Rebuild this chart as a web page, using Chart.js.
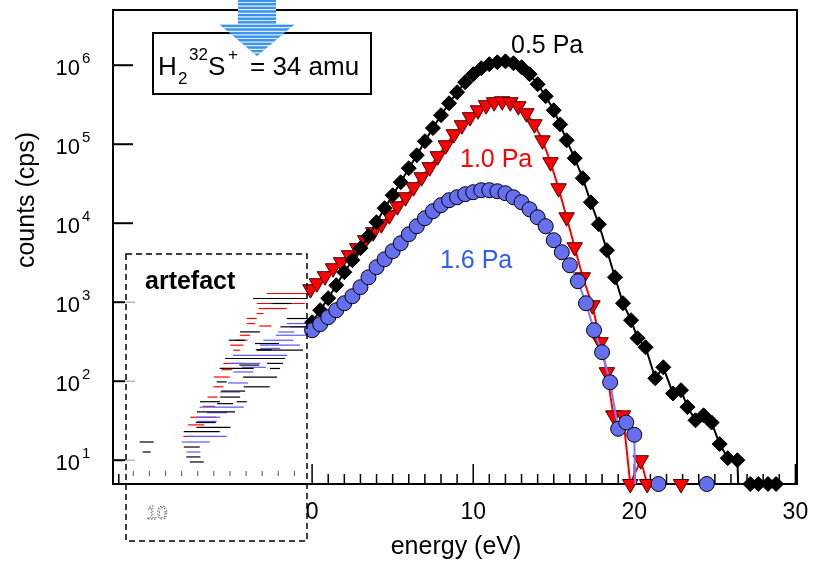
<!DOCTYPE html>
<html>
<head>
<meta charset="utf-8">
<script src="https://cdn.jsdelivr.net/npm/chart.js@4.4.1/dist/chart.umd.min.js"></script>
<style>
  html, body { margin: 0; padding: 0; background: #fff; }
  canvas { display: block; }
</style>
</head>
<body>
<canvas id="myChart" width="815" height="563"></canvas>
<script>
const FONT = '"Liberation Sans", Arial, Helvetica, sans-serif';

// 0.5 Pa (black diamonds)
const energy05 = [0,0.5,1,1.5,2,2.5,3,3.5,4,4.5,5,5.5,6,6.5,7,7.5,8,8.5,9,9.5,10,10.5,11,11.5,12,12.5,13,13.5,14,14.5,15,15.4,15.8,16.3,16.8,17.3,17.8,18.3,18.8,19.3,19.8,20.2,20.7,21.3,21.8,22.4,22.9,23.3,23.8,24.3,24.8,25.3,25.8,26.4,26.45,27.2,27.7,28.3,28.8];
const counts05 = [558,792,1125,1641,2399,3404,4830,6840,10300,15490,22600,33000,49700,72600,109000,160000,233000,330000,455000,610000,769000,916000,1030000,1090000,1120000,1060000,944000,769000,574000,405000,269000,178000,112000,66500,37100,18400,9710,4550,2070,971,592,350,269,109,150,70,77,47,32,37,30,16,10.6,10,5,5,5,5,5];

// 1.0 Pa (red triangles)
const energy10 = [-0.1,0.3,0.8,1.3,1.8,2.3,2.8,3.3,3.8,4.3,4.8,5.3,5.8,6.3,6.8,7.3,7.8,8.3,8.8,9.3,9.8,10.3,10.8,11.3,11.8,12.3,12.8,13.3,13.8,14.3,14.8,15.3,15.8,16.3,16.8,17.4,17.9,18.3,18.7,19.3,19.75,20.4,20.8,22.9];
const counts10 = [1462,1740,2135,2692,3209,3936,4830,6095,7690,9710,12620,16410,21330,28560,38200,51200,70500,97100,134000,174000,220000,269000,312000,340000,350000,340000,303000,247000,179000,112000,59200,27700,11900,4970,2070,916,312,130,37,37,5,10,5,5];

// 1.6 Pa (blue circles)
const energy16 = [0,0.5,1,1.5,2,2.5,3,3.5,4,4.5,5,5.5,6,6.5,7,7.5,8,8.5,9,9.5,10,10.5,11,11.5,12,12.5,13,13.5,14,14.5,15,15.5,16,16.5,17,17.5,18,18.5,19,19.5,20,20.05,21.5,24.5];
const counts16 = [442,527,646,792,971,1191,1549,2070,2773,3499,4424,5580,7260,9160,11560,14190,16900,19540,21330,23300,24700,26200,26200,25400,24000,21330,18400,15000,11900,9160,6095,4296,2939,1845,971,442,233,97,25,30,21,5,5,5];

// points where the trace drops to zero (line only, no marker)
const dropEnergies = [26.45, 20.05];

// artefact region (negative energies)
const artRedE = [-1.57,-1.94,-2.45,-3.23,-3.75,-3.8,-4.16,-4.68,-4.68,-4.89,-5.61,-5.82,-6.18,-6.75,-7.68,-2.9,-4.4,-5.3,-6.4,-7.2];
const artRedV = [1290,964,832,719,622,537,382,286,247,168,113,85,63,35,20,500,330,140,48,28];
const artBlueE = [-0.95,-0.85,-1.32,-2.09,-1.99,-3.23,-4.16,-4.27,-5.09,-5.61,-6.44,-6.54,-6.54,-7.22,-7.37,-2.6,-3.6,-4.6,-5.9,-1.6];
const artBlueV = [537,488,382,330,286,213,168,131,73,47,35,31,20,17,12.7,260,150,95,40,420];
const artBlackE = [-1.99,-0.95,-1.16,-3.85,-4.68,-1.99,-3.54,-2.3,-4.68,-2.3,-3.23,-5.61,-3.44,-5.09,-6.34,-4.37,-5.97,-6.13,-6.85,-7.47,-7.37,-7.16,-10.27,-10.27,-2.8,-3.9,-4.9,-5.4,-6.6,-3.0,-1.9];
const artBlackV = [1115,622,488,421,330,247,194,168,145,145,113,98,85,63,55,55,41,26,23,14.7,11,9.5,17,12.7,300,160,75,52,30,250,964];
const ghostE = [-11.1,-10.1,-9.1,-8.1,-7.1,-6.1,-5.1,-4.1,-3.1,-2.1,-1.1];
const ghostV = 6.8;

// segment half-lengths for the artefact dashes (style only)
const artRedLen = [20,24,14,3.5,5,4,5,6.5,3.5,10,8,5,5,13,5,6,6,5,6,8];
const artBlueLen = [10,8,15,15,20,27,15,10,10,22,12,10,20,14,7,10,12,10,10,8];
const artBlackLen = [27,10,13,10,8,23,30,8,17,5,17,5,13,10,10,5,19,17,18,8,7,7,7,4,12,10,12,8,10,8,10];

// ticks
const xTickLabels = [0, 10, 20, 30];
const yTickExp = [1, 2, 3, 4, 5, 6];

const pairs = (xs, ys) => xs.map((e, i) => ({x: e, y: Array.isArray(ys) ? ys[i] : ys}));
const hideOnAxis = c => (c.p0.parsed.y <= 5 && c.p1.parsed.y <= 5) ? 'rgba(0,0,0,0)' : undefined;
const radii = (xs, r) => xs.map(e => dropEnergies.includes(e) ? 0 : r);

const frame = {
  id: 'frame',
  beforeDatasetsDraw(chart) {
    const {ctx, chartArea: a, scales: {x, y}} = chart;
    ctx.save();
    ctx.strokeStyle = '#000';
    ctx.lineWidth = 2;
    ctx.beginPath();
    ctx.moveTo(a.left, a.top);
    ctx.lineTo(a.right, a.top);
    ctx.lineTo(a.right, a.bottom);
    ctx.lineTo(a.left, a.bottom);
    ctx.closePath();
    ctx.stroke();

    // x ticks, pointing inward
    ctx.lineWidth = 1.5;
    ctx.beginPath();
    for (let e = 0; e <= 30; e++) {
      const px = x.getPixelForValue(e);
      const len = xTickLabels.includes(e) ? 20 : 10;
      ctx.moveTo(px, a.bottom);
      ctx.lineTo(px, a.bottom - len);
    }
    const pFirst = x.getPixelForValue(-12);
    ctx.moveTo(pFirst, a.bottom);
    ctx.lineTo(pFirst, a.bottom - 10);
    ctx.stroke();

    // y ticks
    ctx.lineWidth = 2;
    yTickExp.forEach(p => {
      const py = y.getPixelForValue(Math.pow(10, p));
      ctx.strokeStyle = '#000';
      ctx.beginPath();
      ctx.moveTo(a.left, py);
      ctx.lineTo(a.left + (p <= 3 ? 12 : 20), py);
      ctx.stroke();
      if (p <= 3) {
        ctx.strokeStyle = '#999';
        ctx.lineWidth = 1;
        ctx.beginPath();
        ctx.moveTo(a.left + 12, py);
        ctx.lineTo(a.left + 22, py);
        ctx.stroke();
        ctx.lineWidth = 2;
      }
    });
    ctx.restore();
  },
  afterDatasetsDraw(chart) {
    const {ctx, chartArea: a, scales: {x, y}} = chart;
    ctx.save();
    ctx.fillStyle = '#000';

    // x tick labels
    ctx.font = '23px ' + FONT;
    ctx.textAlign = 'center';
    ctx.textBaseline = 'alphabetic';
    xTickLabels.forEach(v => ctx.fillText(String(v), x.getPixelForValue(v), 519));

    // y tick labels 10^n
    yTickExp.forEach(p => {
      const py = y.getPixelForValue(Math.pow(10, p));
      ctx.font = '22px ' + FONT;
      ctx.textAlign = 'right';
      ctx.fillText('10', 80, py + 10);
      ctx.font = '15px ' + FONT;
      ctx.textAlign = 'left';
      ctx.fillText(String(p), 82, py - 2);
    });

    // axis titles
    ctx.font = '25px ' + FONT;
    ctx.textAlign = 'center';
    ctx.fillText('energy (eV)', 456, 554);
    ctx.save();
    ctx.translate(34, 200);
    ctx.rotate(-Math.PI / 2);
    ctx.fillText('counts (cps)', 0, 0);
    ctx.restore();

    // series labels
    ctx.textAlign = 'left';
    ctx.fillStyle = '#000';
    ctx.fillText('0.5 Pa', 511, 53);
    ctx.fillStyle = '#ff0000';
    ctx.fillText('1.0 Pa', 460, 167);
    ctx.fillStyle = '#2f5cf2';
    ctx.fillText('1.6 Pa', 440, 268);

    // species box
    ctx.fillStyle = '#fff';
    ctx.fillRect(153, 33, 218, 61);
    ctx.strokeStyle = '#000';
    ctx.lineWidth = 2;
    ctx.strokeRect(153, 33, 218, 61);
    ctx.fillStyle = '#000';
    ctx.font = '26px ' + FONT;
    ctx.fillText('H', 158, 75);
    ctx.font = '17px ' + FONT;
    ctx.fillText('2', 178, 84);
    ctx.fillText('32', 189, 60);
    ctx.font = '26px ' + FONT;
    ctx.fillText('S', 208, 75);
    ctx.font = '17px ' + FONT;
    ctx.fillText('+', 228, 60);
    ctx.font = '26px ' + FONT;
    ctx.fillText('= 34 amu', 250, 75);

    // artefact box
    ctx.setLineDash([6, 4]);
    ctx.lineWidth = 1.5;
    ctx.strokeRect(126, 254, 181, 287);
    ctx.setLineDash([]);
    ctx.font = 'bold 25px ' + FONT;
    ctx.fillText('artefact', 145, 289);

    // ghost tick label inside the artefact box
    ctx.font = '19px ' + FONT;
    ctx.textAlign = 'center';
    ctx.setLineDash([1.5, 1.5]);
    ctx.lineWidth = 0.8;
    ctx.strokeStyle = '#444';
    ctx.strokeText('10', 157, 519);
    ctx.setLineDash([]);

    // striped blue arrow
    ctx.beginPath();
    ctx.moveTo(238, 0);
    ctx.lineTo(276, 0);
    ctx.lineTo(276, 24);
    ctx.lineTo(295, 24);
    ctx.lineTo(257, 56);
    ctx.lineTo(219, 24);
    ctx.lineTo(238, 24);
    ctx.closePath();
    ctx.fillStyle = '#3a93ee';
    ctx.fill();
    ctx.clip();
    ctx.strokeStyle = 'rgba(255,255,255,0.85)';
    ctx.lineWidth = 1.2;
    ctx.beginPath();
    for (let yy = 2.5; yy < 56; yy += 3.6) {
      ctx.moveTo(215, yy);
      ctx.lineTo(300, yy);
    }
    ctx.stroke();
    ctx.restore();
  }
};

const artDash = (label, xs, ys, color, lens) => ({
  label: label,
  data: pairs(xs, ys),
  showLine: false,
  pointStyle: 'line',
  pointRadius: lens,
  pointBorderColor: color,
  pointBorderWidth: 1.2,
  order: 5
});

const ctx = document.getElementById('myChart').getContext('2d');

const myChart = new Chart(ctx, {
  type: 'line',
  data: {
    datasets: [{
      label: '1.6 Pa',
      data: pairs(energy16, counts16),
      borderColor: '#7b7bf5',
      borderWidth: 2,
      backgroundColor: '#6670ee',
      pointStyle: 'circle',
      pointRadius: radii(energy16, 7.5),
      pointBorderColor: '#000',
      pointBorderWidth: 1,
      clip: false,
      segment: {borderColor: hideOnAxis},
      order: 0
    }, {
      label: '0.5 Pa',
      data: pairs(energy05, counts05),
      borderColor: '#000',
      borderWidth: 2,
      backgroundColor: '#000',
      pointStyle: 'rectRot',
      pointRadius: radii(energy05, 7.5),
      pointBorderColor: '#000',
      pointBorderWidth: 1,
      clip: false,
      segment: {borderColor: hideOnAxis},
      order: 1
    }, {
      label: '1.0 Pa',
      data: pairs(energy10, counts10),
      borderColor: '#ff0000',
      borderWidth: 2,
      backgroundColor: '#ff0000',
      pointStyle: 'triangle',
      rotation: 180,
      pointRadius: radii(energy10, 9),
      pointBorderColor: '#4a0000',
      pointBorderWidth: 1,
      clip: false,
      segment: {borderColor: hideOnAxis},
      order: 2
    },
    artDash('art black', artBlackE, artBlackV, '#000', artBlackLen),
    artDash('art blue', artBlueE, artBlueV, '#5a5aff', artBlueLen),
    artDash('art red', artRedE, artRedV, '#ff0000', artRedLen),
    {
      label: 'ghost',
      data: pairs(ghostE, ghostV),
      showLine: false,
      pointStyle: 'line',
      rotation: 90,
      pointRadius: 2.5,
      pointBorderColor: '#555',
      pointBorderWidth: 1,
      order: 6
    }]
  },
  options: {
    responsive: false,
    animation: false,
    layout: {autoPadding: false, padding: {left: 113, right: 18, top: 10, bottom: 79}},
    elements: {line: {tension: 0}},
    scales: {
      x: {type: 'linear', min: -12.36, max: 30.1, display: false},
      y: {type: 'logarithmic', min: 5, max: 5e6, display: false}
    },
    plugins: {
      legend: {display: false},
      tooltip: {enabled: false}
    }
  },
  plugins: [frame]
});
</script>
</body>
</html>
